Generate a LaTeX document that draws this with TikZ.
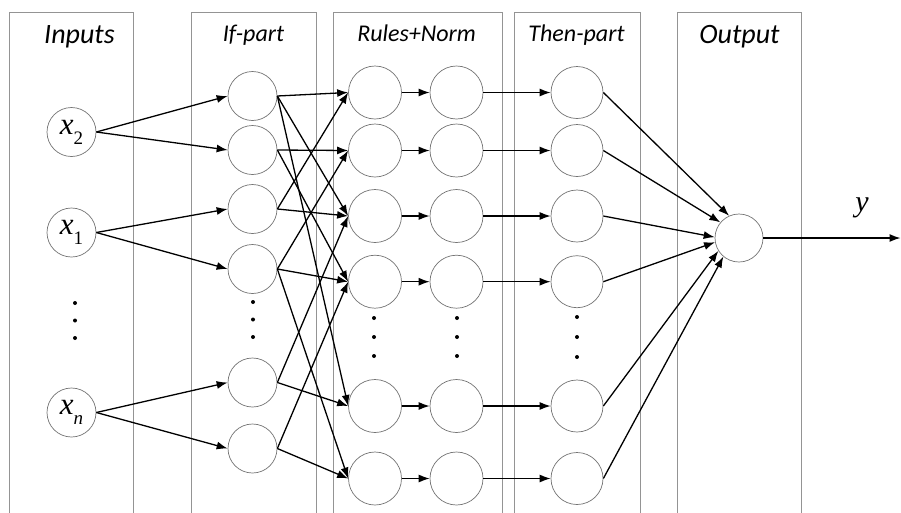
\documentclass[tikz,border=0pt]{standalone}
\usepackage{fontspec}
\newfontfamily\lbl{Carlito}
\newfontfamily\tms{Liberation Serif}
\usetikzlibrary{arrows.meta}
\newcommand{\invar}[1]{{\tms\fontsize{31}{33}\selectfont\itshape x\raisebox{-0.33em}{\fontsize{19}{20}\selectfont\upshape #1}}}
\begin{document}
\begin{tikzpicture}[x=1pt,y=-1pt,
  colbox/.style={draw=black!42, line width=0.9pt},
  neuron/.style={circle, draw=black!55, line width=0.7pt, minimum size=49pt, inner sep=0pt},
  rneuron/.style={neuron, minimum size=53pt},
  conn/.style={line width=1.3pt, -{Latex[length=11pt,width=8pt]}},
  smalldot/.style={circle, fill=black, inner sep=0pt, minimum size=4pt},
  smlab/.style={font=\lbl\itshape\fontsize{24}{28}\selectfont, anchor=base, inner sep=0pt},
  biglab/.style={font=\lbl\itshape\fontsize{28}{32}\selectfont, anchor=base, inner sep=0pt},
  ]
\useasboundingbox (0,0) rectangle (901,512);
\clip (0,0) rectangle (901,512);
% column frames (open at the bottom)
\draw[colbox] (9,520) |- (133,12.3) -- (133,520);
\draw[colbox] (191,520) |- (316,12.3) -- (316,520);
\draw[colbox] (333,520) |- (502,12.3) -- (502,520);
\draw[colbox] (514,520) |- (640,12.3) -- (640,520);
\draw[colbox] (677,520) |- (801,12.3) -- (801,520);
% titles
\node[biglab] (tin) at (79.5,43.5) {Inputs};
\node[smlab] (tif) at (253.5,41.7) {If-part};
\node[smlab] (tru) at (416.6,41.7) {Rules+Norm};
\node[smlab] (tth) at (576.5,41.7) {Then-part};
\node[biglab] (tout) at (739.5,43) {Output};
% inputs
\node[neuron] (x2) at (71.5,132) {\invar{2}};
\node[neuron] (x1) at (71.5,232.5) {\invar{1}};
\node[neuron] (xn) at (71.5,412.5) {\invar{\itshape n}};
% if-part
\foreach \n/\y in {1/96,2/150,3/209,4/269,5/382.5,6/448.5}
  \node[neuron] (f\n) at (252.5,\y) {};
% rules, norm, then-part
\foreach \n/\y in {1/92.5,2/150.5,3/216,4/281.7,5/406,6/478.5} {
  \node[rneuron] (r\n) at (375,\y) {};
  \node[rneuron] (s\n) at (456.5,\y) {};
  \node[neuron, minimum size=52pt] (t\n) at (577,\y) {};
}
% output
\node[neuron, minimum size=48pt] (out) at (739,238) {};
\coordinate (yend) at (900.5,238);
\node[font=\tms\itshape\fontsize{30}{32}\selectfont, inner sep=0pt] (ylab) at (862,208) {y};
% dots
\foreach \y [count=\k] in {303,320.5,338} \node[smalldot] (di\k) at (75,\y) {};
\foreach \y [count=\k] in {302,319.5,337} \node[smalldot] (df\k) at (253,\y) {};
\foreach \y [count=\k] in {318,337,356} {
  \node[smalldot] (dr\k) at (374,\y) {};
  \node[smalldot] (ds\k) at (457,\y) {};
}
\foreach \y [count=\k] in {317,337,357} \node[smalldot] (dt\k) at (577,\y) {};
% connections
\foreach \a/\b in {x2/f1,x2/f2,x1/f3,x1/f4,xn/f5,xn/f6}
  \draw[conn] (\a.east) -- (\b.west);
\foreach \a/\b in {f1/r1,f1/r3,f1/r5,f2/r2,f2/r4,f3/r1,f3/r3,f4/r2,f4/r4,f4/r6,f5/r3,f5/r5,f6/r4,f6/r6}
  \draw[conn] (\a.east) -- (\b.west);
\foreach \i in {1,...,6} {
  \draw[conn] (r\i.east) -- (s\i.west);
  \draw[conn] (s\i.east) -- (t\i.west);
}
\foreach \i/\ang in {1/114,2/140,3/178,4/190,5/212,6/230}
  \draw[conn] (t\i.east) -- (out.\ang);
\draw[conn] (out.east) -- (yend);
\end{tikzpicture}
\end{document}
